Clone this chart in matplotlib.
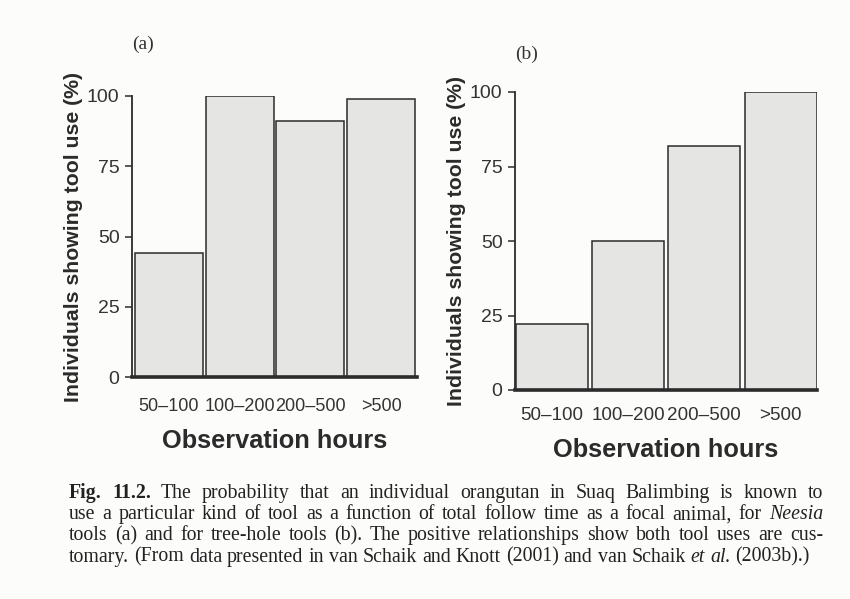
import matplotlib
matplotlib.use("Agg")
import matplotlib.pyplot as plt

# Observation-hour classes and share of individuals showing each tool use
hours = ["50\u2013100", "100\u2013200", "200\u2013500", ">500"]
neesia_pct = [44, 100, 91, 99]
treehole_pct = [22, 50, 82, 100]
yticks = [0, 25, 50, 75, 100]

W, H = 850, 599
fig = plt.figure(figsize=(W / 100, H / 100), dpi=100)
fig.patch.set_facecolor("#fcfcfb")

ink = "#2b2b2b"
bar_fill = "#e5e5e4"
sans = ["Liberation Sans", "DejaVu Sans"]
serif = ["Liberation Serif", "DejaVu Serif"]


def px_axes(left, top, right, bottom):
    return fig.add_axes([left / W, 1 - bottom / H, (right - left) / W, (bottom - top) / H])


def panel(ax, values, width, xlim, xpad, xsize):
    x = list(range(len(values)))
    ax.bar(x, values, width=width, color=bar_fill, edgecolor=ink, linewidth=1.1, zorder=2)
    ax.set_xlim(*xlim)
    ax.set_ylim(0, 100)
    ax.set_facecolor("none")
    for s in ("top", "right"):
        ax.spines[s].set_visible(False)
    ax.spines["left"].set_color(ink)
    ax.spines["left"].set_linewidth(1.3)
    ax.spines["bottom"].set_color(ink)
    ax.spines["bottom"].set_linewidth(2.6)
    ax.spines["bottom"].set_zorder(3)
    ax.set_yticks(yticks)
    ax.set_yticklabels([str(v) for v in yticks], family=sans, fontsize=14, color="#333333")
    ax.tick_params(axis="y", direction="out", length=5, width=1.1, color=ink, pad=4)
    ax.set_xticks(x)
    ax.set_xticklabels(hours, family=sans, fontsize=xsize, color="#333333")
    ax.tick_params(axis="x", length=0, pad=xpad)
    ax.set_ylabel("Individuals showing tool use (%)", family=sans, fontsize=15.3,
                  fontweight="bold", color=ink, labelpad=3)
    ax.set_xlabel("Observation hours", family=sans, fontsize=18.3, fontweight="bold",
                  color=ink, labelpad=10)


ax_a = px_axes(132, 96, 416.5, 377)
panel(ax_a, neesia_pct, 0.96, (-0.52, 3.5), 15, 13.0)
ax_b = px_axes(515, 92, 817, 390)
panel(ax_b, treehole_pct, 0.945, (-0.485, 3.478), 12, 13.6)

fig.text(143 / W, 1 - 44 / H, "(a)", family=serif, fontsize=14, color="#333333",
         ha="center", va="center")
fig.text(527 / W, 1 - 54 / H, "(b)", family=serif, fontsize=14, color="#333333",
         ha="center", va="center")

# Caption set as justified lines, word by word
caption = [
    [("Fig. 11.2.", "bold"), ("The probability that an individual orangutan in Suaq Balimbing is known to", "normal")],
    [("use a particular kind of tool as a function of total follow time as a focal animal, for", "normal"), ("Neesia", "italic")],
    [("tools (a) and for tree-hole tools (b). The positive relationships show both tool uses are cus-", "normal")],
    [("tomary. (From data presented in van Schaik and Knott (2001) and van Schaik", "normal"), ("et al.", "italic"), ("(2003b).)", "normal")],
]
cap_left, cap_right = 69, 823
cap_base, cap_step = 498, 21.2
cap_size = 14.3

fig.canvas.draw()
renderer = fig.canvas.get_renderer()


def width_of(s, **kw):
    t = fig.text(0, 0, s, family=serif, fontsize=cap_size, **kw)
    w = t.get_window_extent(renderer).width
    t.remove()
    return w


natural_space = width_of("a b") - width_of("ab")
for i, segs in enumerate(caption):
    y = 1 - (cap_base + i * cap_step) / H
    words = []
    for txt, style in segs:
        for w in txt.split(" "):
            words.append((w, style))
    arts = []
    total = 0.0
    for w, style in words:
        t = fig.text(0, y, w, family=serif, fontsize=cap_size, color="#222222",
                     fontweight="bold" if style == "bold" else "normal",
                     fontstyle="italic" if style == "italic" else "normal",
                     ha="left", va="baseline")
        wpx = t.get_window_extent(renderer).width
        arts.append((t, wpx))
        total += wpx
    gap = (cap_right - cap_left - total) / (len(arts) - 1)
    if i == len(caption) - 1:
        gap = min(gap, natural_space)
    gap = max(gap, natural_space * 0.45)
    xpos = cap_left
    for t, wpx in arts:
        t.set_x(xpos / W)
        xpos += wpx + gap

fig.savefig("out.png", dpi=100, facecolor=fig.get_facecolor())
